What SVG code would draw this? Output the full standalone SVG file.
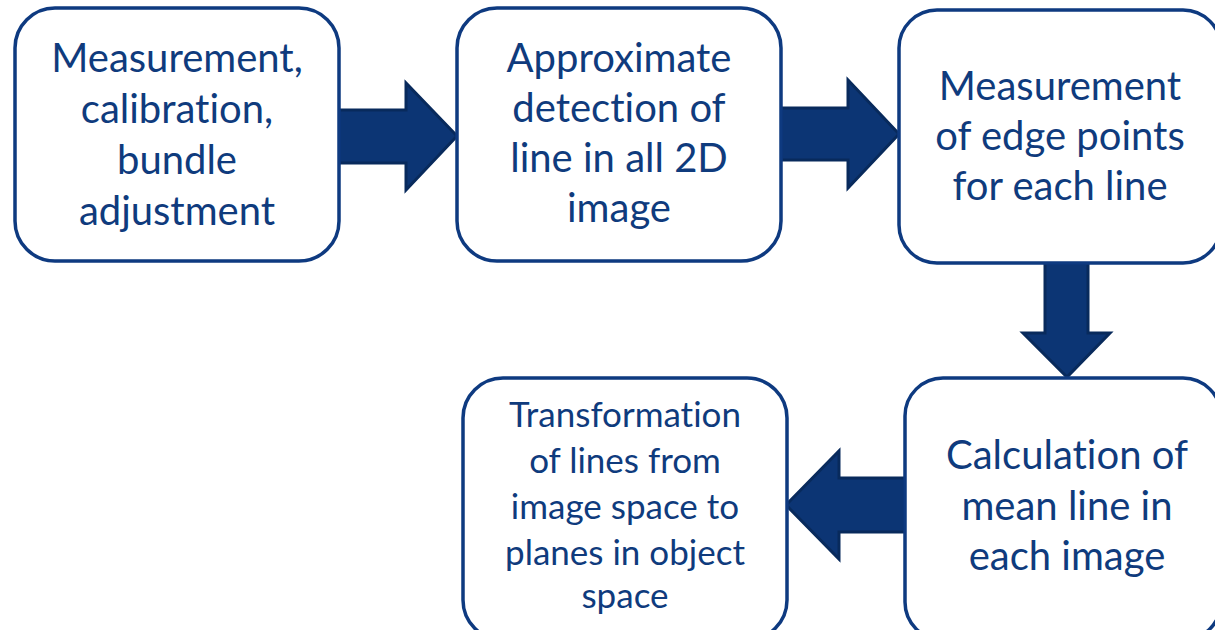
<svg xmlns="http://www.w3.org/2000/svg" width="1215" height="630" viewBox="0 0 1215 630">
<style>
.box{fill:#fff;stroke:#0e3a80;stroke-width:3.5}
.t{font-family:Lato,"Open Sans",sans-serif;fill:#0f3b7d;text-anchor:middle;font-size:40px;font-variant-ligatures:none}
.s{font-size:35px}
.arr{fill:#0c3574;stroke:#082a5c;stroke-width:3;stroke-linejoin:miter}
</style>
<rect width="1215" height="630" fill="#fff"/>
<g id="connectors">
<polygon class="arr" points="339,110 406,110 406,83 457,136 406,190 406,163 339,163"/>
<polygon class="arr" points="781,108 848,108 848,80 899,134 848,188 848,160 781,160"/>
<polygon class="arr" points="1045,263 1088,263 1088,333 1110,333 1067,377 1023,333 1045,333"/>
<polygon class="arr" points="905,478 839,478 839,451 786,505 839,559 839,532 905,532"/>
</g>
<g id="n1">
<rect class="box" x="15" y="8" width="324" height="253" rx="40"/>
<text class="t" x="177" y="72">Measurement,</text>
<text class="t" x="177" y="123">calibration,</text>
<text class="t" x="177" y="174">bundle</text>
<text class="t" x="177" y="225">adjustment</text>
</g>
<g id="n2">
<rect class="box" x="457" y="8" width="324" height="253" rx="40"/>
<text class="t" x="619" y="72">Approximate</text>
<text class="t" x="619" y="122">detection of</text>
<text class="t" x="619" y="172">line in all 2D</text>
<text class="t" x="619" y="222">image</text>
</g>
<g id="n3">
<rect class="box" x="899" y="10" width="322" height="253" rx="38"/>
<text class="t" x="1060" y="100">Measurement</text>
<text class="t" x="1060" y="150">of edge points</text>
<text class="t" x="1060" y="200">for each line</text>
</g>
<g id="n4">
<rect class="box" x="905" y="378" width="316" height="262" rx="38"/>
<text class="t" x="1067" y="469">Calculation of</text>
<text class="t" x="1067" y="520">mean line in</text>
<text class="t" x="1067" y="570">each image</text>
</g>
<g id="n5">
<rect class="box" x="463" y="378" width="324" height="262" rx="40"/>
<text class="t s" x="625" y="427">Transformation</text>
<text class="t s" x="625" y="473">of lines from</text>
<text class="t s" x="625" y="519">image space to</text>
<text class="t s" x="625" y="565">planes in object</text>
<text class="t s" x="625" y="608">space</text>
</g>
</svg>
